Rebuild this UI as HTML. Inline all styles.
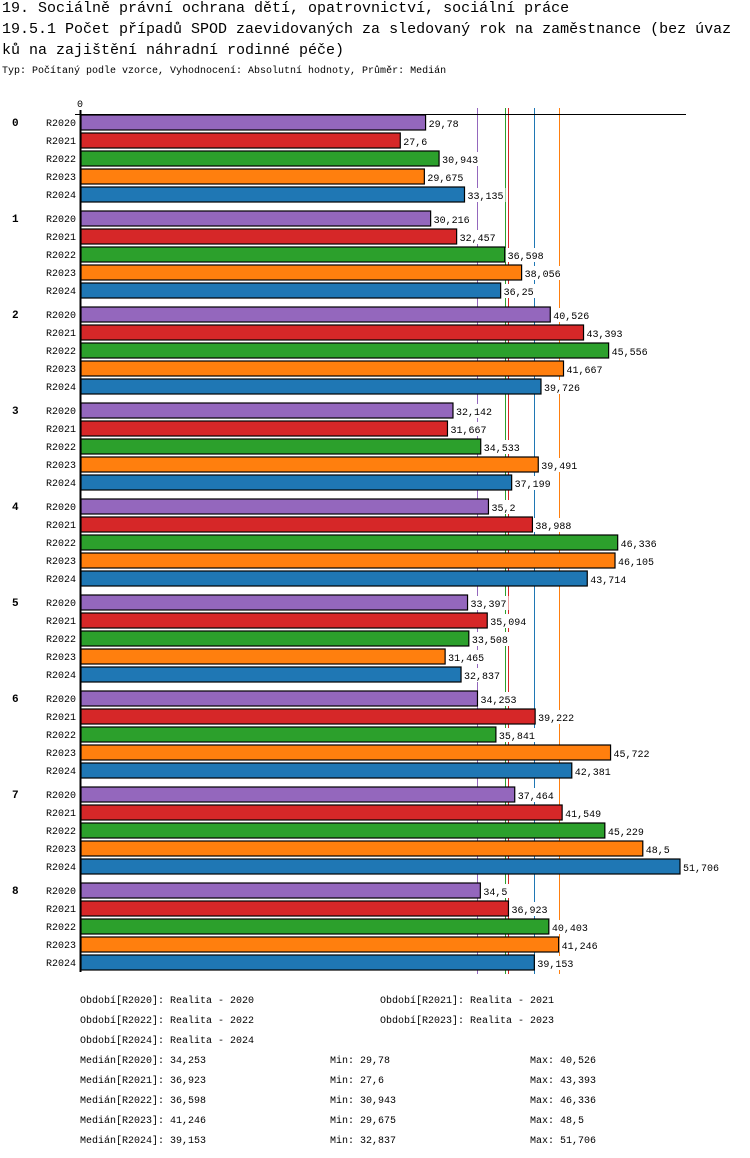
<!DOCTYPE html>
<html><head><meta charset="utf-8">
<style>
body{margin:0;background:#fff;width:750px;height:1158px;overflow:hidden;font-family:"Liberation Mono","DejaVu Sans Mono",monospace;}
.t{position:absolute;left:2px;font-size:15px;white-space:nowrap;color:#000;}
svg{position:absolute;left:0;top:0}
</style></head><body>
<div class="t" style="top:0px">19. Sociálně právní ochrana dětí, opatrovnictví, sociální práce</div>
<div class="t" style="top:21px">19.5.1 Počet případů SPOD zaevidovaných za sledovaný rok na zaměstnance (bez úvaz</div>
<div class="t" style="top:42px">ků na zajištění náhradní rodinné péče)</div>
<div class="t" style="top:66px;font-size:10px">Typ: Počítaný podle vzorce, Vyhodnocení: Absolutní hodnoty, Průměr: Medián</div>
<svg id="c" width="750" height="1158"></svg>
<script>
const categories=["0","1","2","3","4","5","6","7","8"];
const seriesNames=["R2020","R2021","R2022","R2023","R2024"];
const seriesColors=["#9467bd","#d62728","#2ca02c","#ff7f0e","#1f77b4"];
const s2020=[29.78,30.216,40.526,32.142,35.2,33.397,34.253,37.464,34.5];
const s2021=[27.6,32.457,43.393,31.667,38.988,35.094,39.222,41.549,36.923];
const s2022=[30.943,36.598,45.556,34.533,46.336,33.508,35.841,45.229,40.403];
const s2023=[29.675,38.056,41.667,39.491,46.105,31.465,45.722,48.5,41.246];
const s2024=[33.135,36.25,39.726,37.199,43.714,32.837,42.381,51.706,39.153];
const medians=[34.253,36.923,36.598,41.246,39.153];
const mins=[29.78,27.6,30.943,29.675,32.837];
const maxs=[40.526,43.393,46.336,48.5,51.706];
const series=[s2020,s2021,s2022,s2023,s2024];
const NS="http://www.w3.org/2000/svg";
const svg=document.getElementById('c');
const x=v=>80+v*(600/51.706);
const fmt=v=>String(v).replace('.',',');
function el(t,a,txt){const e=document.createElementNS(NS,t);for(const k in a)e.setAttribute(k,a[k]);if(txt!==undefined)e.textContent=txt;svg.appendChild(e);return e;}
const top0=114,pitch=18,gpitch=96;
const yEnd=top0+gpitch*(categories.length-1)+pitch*5;
medians.forEach((m,i)=>{
 const l=el('line',{x1:Math.round(x(m))+0.5,x2:Math.round(x(m))+0.5,y1:108,y2:yEnd+2,stroke:seriesColors[i],'stroke-width':1,'shape-rendering':'crispEdges'});
 
 
});
const xa=el('line',{x1:75,x2:686,y1:114.5,y2:114.5,stroke:'#000','stroke-width':1,'shape-rendering':'crispEdges'});


const z=el('text',{x:80,y:107,'font-size':10,'text-anchor':'middle','font-family':'Liberation Mono, monospace'},'0');


categories.forEach((c,g)=>{
 const gy=top0+g*gpitch;
 const gl=el('text',{x:12,y:gy+12,'font-size':11,'font-weight':'bold','font-family':'Liberation Mono, monospace'},c);
 
 
 series.forEach((s,i)=>{
  const y=gy+i*pitch;
  const rl=el('text',{x:76,y:y+12,'font-size':10,'text-anchor':'end','font-family':'Liberation Mono, monospace'},seriesNames[i]);
  
  
  const r=el('rect',{x:81,y:y+1,width:x(s[g])-81,height:15,fill:seriesColors[i],stroke:'#000','stroke-width':1.2});
  
  
  const txt=fmt(s[g]);
  const bg=el('rect',{x:x(s[g])+1,y:y+2,width:txt.length*6+4,height:14,fill:'#fff'});
  
  
  const vl=el('text',{x:x(s[g])+3,y:y+13,'font-size':10,'font-family':'Liberation Mono, monospace'},txt);
  
  
 });
});
const ya=el('line',{x1:80.5,x2:80.5,y1:110,y2:yEnd,stroke:'#000','stroke-width':2});


function lt(xx,yy,t,n){const e=el('text',{x:xx,y:yy,'font-size':10,'font-family':'Liberation Mono, monospace'},t);}
const legendPos=[[80,1003],[380,1003],[80,1023],[380,1023],[80,1043]];
seriesNames.forEach((n,i)=>lt(legendPos[i][0],legendPos[i][1],'Období['+n+']: Realita - '+n.slice(1),'legend-entry'));
seriesNames.forEach((n,i)=>{
 const yy=1063+i*20;
 lt(80,yy,'Medián['+n+']: '+fmt(medians[i]),'median-stat');
 lt(330,yy,'Min: '+fmt(mins[i]),'min-stat');
 lt(530,yy,'Max: '+fmt(maxs[i]),'max-stat');
});
</script>
</body></html>
